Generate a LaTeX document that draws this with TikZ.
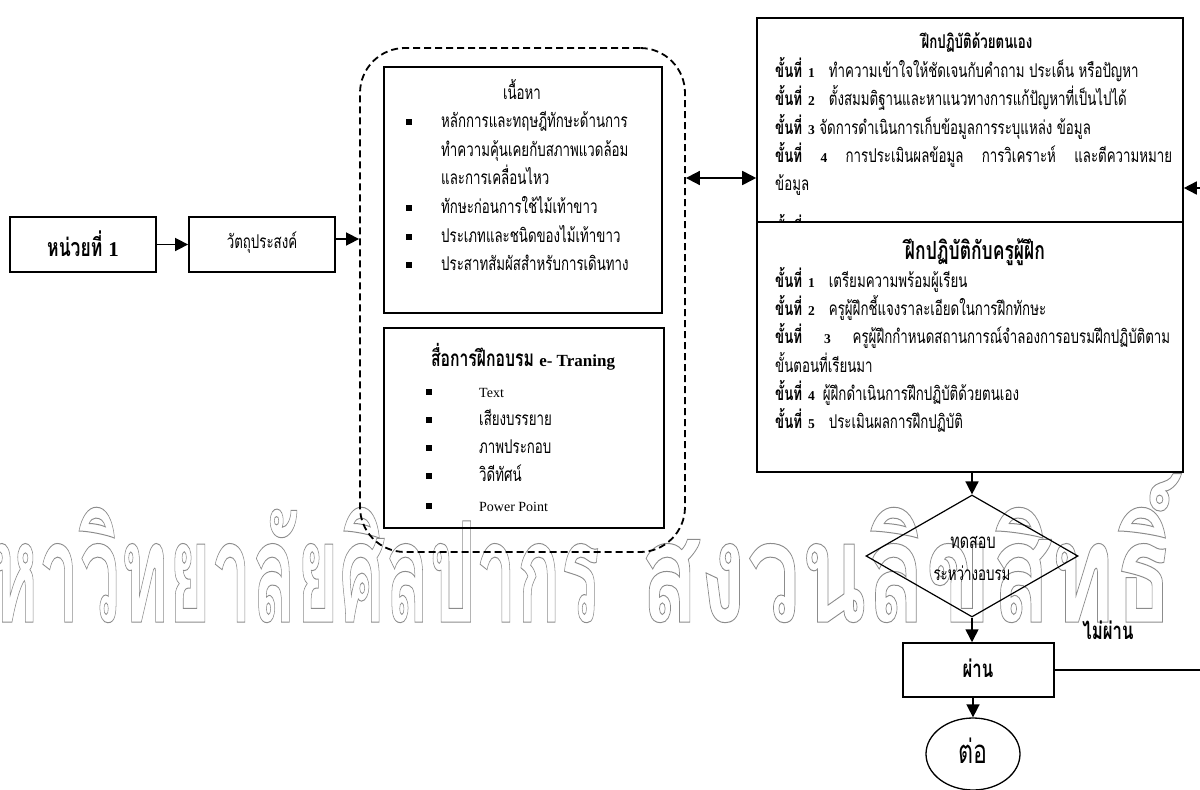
\documentclass[tikz,border=0pt]{standalone}
\usepackage{fontspec}
\usepackage{graphicx}
\setmainfont{Liberation Serif}
\newfontfamily\thai[Script=Thai,FakeStretch=0.7]{Loma}
\newfontfamily\wmfont[Script=Thai]{Loma}
\usetikzlibrary{arrows.meta,shapes.geometric}
\newcommand\en[1]{{\rmfamily\fontsize{13.5}{16}\selectfont #1}}
\newcommand\enb[1]{{\rmfamily\fontsize{14}{16}\selectfont #1}}
\newcommand\bl{\makebox[35pt][l]{\rule[2pt]{6pt}{6pt}}}
\newcommand\bm{\makebox[53pt][l]{\rule[2pt]{6pt}{6pt}}}
\newcommand\st[1]{\textbf{ขั้นที่\hspace{6pt}\en{#1}}}
\newcommand\outl[1]{\special{pdf:literal direct 1 Tr 0.55 G 1 w}#1\special{pdf:literal direct 0 Tr 0 G}}
\begin{document}
\begin{tikzpicture}[x=1pt,y=-1pt,
  frame/.style={draw,line width=1.8pt,inner sep=0},
  arr/.style={line width=1.6pt,-{Triangle[length=13pt,width=13pt]}},
  tx/.style={inner sep=0,anchor=base west,font=\thai\fontsize{19}{22}\selectfont},
  txc/.style={tx,anchor=base},
  wm/.style={inner sep=0,font=\wmfont\bfseries\fontsize{140}{140}\selectfont}]
\useasboundingbox (0,0) rectangle (1200,790);
% watermark
\node[wm,anchor=base east] (wmA) at (600,622) {\scalebox{0.52}[1]{\outl{มหาวิทยาลัยศิลปากร}}};
\node[wm,anchor=base west] (wmB) at (640,622) {\scalebox{0.69}[1]{\outl{สงวนลิขสิทธิ์}}};
% frames
\node[frame,minimum width=146pt,minimum height=55pt] (unit) at (83,244.5) {};
\node[frame,minimum width=146pt,minimum height=55pt] (obj) at (262,244.5) {};
\node[draw,dash pattern=on 7pt off 4pt,line width=1.8pt,rounded corners=45pt,minimum width=325pt,minimum height=504pt,inner sep=0] (cont) at (522.5,300) {};
\node[frame,minimum width=278pt,minimum height=246pt] (content) at (523,190) {};
\node[frame,minimum width=280pt,minimum height=200pt] (media) at (524,428) {};
\node[frame,line width=1.6pt,minimum width=426pt,minimum height=204pt] (self) at (970,120) {};
\node[frame,line width=1.6pt,minimum width=426pt,minimum height=250pt] (coach) at (970,347) {};
\node[draw,diamond,line width=1.2pt,minimum width=212pt,minimum height=122pt,inner sep=0] (test) at (972,556) {};
\node[frame,line width=1.5pt,minimum width=151pt,minimum height=54pt] (pass) at (978.5,670) {};
\node[draw,ellipse,line width=1.3pt,minimum width=94pt,minimum height=72pt,inner sep=0] (next) at (973,754) {};
% left texts
\node[txc,font=\thai\bfseries\fontsize{25}{28}\selectfont] (unitT) at (83,256) {หน่วยที่ {\rmfamily\fontsize{21}{24}\selectfont 1}};
\node[txc] (objT) at (262,248) {วัตถุประสงค์};
% content box
\node[txc] (contT) at (522,99) {เนื้อหา};
\node[tx] (c1) at (406,127) {\bl หลักการและทฤษฎีทักษะด้านการ};
\node[tx] (c2) at (441,156) {ทำความคุ้นเคยกับสภาพแวดล้อม};
\node[tx] (c3) at (441,184) {และการเคลื่อนไหว};
\node[tx] (c4) at (406,213) {\bl ทักษะก่อนการใช้ไม้เท้าขาว};
\node[tx] (c5) at (406,242) {\bl ประเภทและชนิดของไม้เท้าขาว};
\node[tx] (c6) at (406,270) {\bl ประสาทสัมผัสสำหรับการเดินทาง};
% media box
\node[txc,font=\thai\bfseries\fontsize{22.5}{25}\selectfont] (mediaT) at (523,366) {สื่อการฝึกอบรม {\rmfamily\fontsize{17}{20}\selectfont e- Traning}};
\node[tx] (m1) at (426,397) {\bm\enb{Text}};
\node[tx] (m2) at (426,425) {\bm เสียงบรรยาย};
\node[tx] (m3) at (426,453) {\bm ภาพประกอบ};
\node[tx] (m4) at (426,481) {\bm วิดีทัศน์};
\node[tx] (m5) at (426,511) {\bm\enb{Power Point}};
% self practice box
\node[txc,font=\thai\bfseries\fontsize{19}{22}\selectfont] (selfT) at (977,48) {ฝึกปฏิบัติด้วยตนเอง};
\node[tx] (s1) at (775,77) {\st{1}\hspace{14pt}ทำความเข้าใจให้ชัดเจนกับคำถาม ประเด็น หรือปัญหา};
\node[tx] (s2) at (775,105) {\st{2}\hspace{14pt}ตั้งสมมติฐานและหาแนวทางการแก้ปัญหาที่เป็นไปได้};
\node[tx] (s3) at (775,134) {\st{3} จัดการดำเนินการเก็บข้อมูลการระบุแหล่ง ข้อมูล};
\node[tx] (s4) at (775,162) {\makebox[397pt][s]{\textbf{ขั้นที่ \en{4}} การประเมินผลข้อมูล การวิเคราะห์ และตีความหมาย}};
\node[tx] (s5) at (775,190) {ข้อมูล};
\begin{scope}
\clip (757,200) rectangle (1183,222);
\node[tx] (s6) at (775,234) {\textbf{ขั้นที่}};
\end{scope}
% coach box
\node[txc,font=\thai\bfseries\fontsize{25}{28}\selectfont] (coachT) at (975,259) {ฝึกปฏิบัติกับครูผู้ฝึก};
\node[tx] (k1) at (775,287) {\st{1}\hspace{14pt}เตรียมความพร้อมผู้เรียน};
\node[tx] (k2) at (775,315) {\st{2}\hspace{14pt}ครูผู้ฝึกชี้แจงราละเอียดในการฝึกทักษะ};
\node[tx] (k3) at (775,343) {\makebox[395pt][s]{\textbf{ขั้นที่ \en{3}} ครูผู้ฝึกกำหนดสถานการณ์จำลองการอบรมฝึกปฏิบัติตาม}};
\node[tx] (k4) at (775,372) {ขั้นตอนที่เรียนมา};
\node[tx] (k5) at (775,400) {\st{4}\hspace{8pt}ผู้ฝึกดำเนินการฝึกปฏิบัติด้วยตนเอง};
\node[tx] (k6) at (775,428) {\st{5}\hspace{14pt}ประเมินผลการฝึกปฏิบัติ};
% flow texts
\node[txc,font=\thai\fontsize{20.5}{24}\selectfont] (testA) at (973,548) {ทดสอบ};
\node[txc] (testB) at (972,580) {ระหว่างอบรม};
\node[txc,font=\thai\bfseries\fontsize{24}{26}\selectfont] (fail) at (1108,639) {ไม่ผ่าน};
\node[txc,font=\thai\bfseries\fontsize{24}{26}\selectfont] (passT) at (978,677) {ผ่าน};
\node[txc,font=\thai\fontsize{33}{36}\selectfont] (nextT) at (973,763) {ต่อ};
% connectors
\coordinate (ya) at (0,239);
\coordinate (yb) at (0,178);
\coordinate (yc) at (0,188);
\draw[arr] (unit.east) -- (obj.west);
\draw[arr] (obj.east |- ya) -- (cont.west |- ya);
\draw[line width=1.8pt,{Triangle[length=14pt,width=14pt]}-{Triangle[length=14pt,width=14pt]}] (cont.east |- yb) -- (self.west |- yb);
\draw[arr] (test.north |- coach.south) -- (test.north);
\draw[arr] (test.south) -- (test.south |- pass.north);
\draw[arr] (next.north |- pass.south) -- (next.north);
\draw[arr] (pass.east) -- ++(170,0) |- (self.east |- yc);
\end{tikzpicture}
\end{document}
